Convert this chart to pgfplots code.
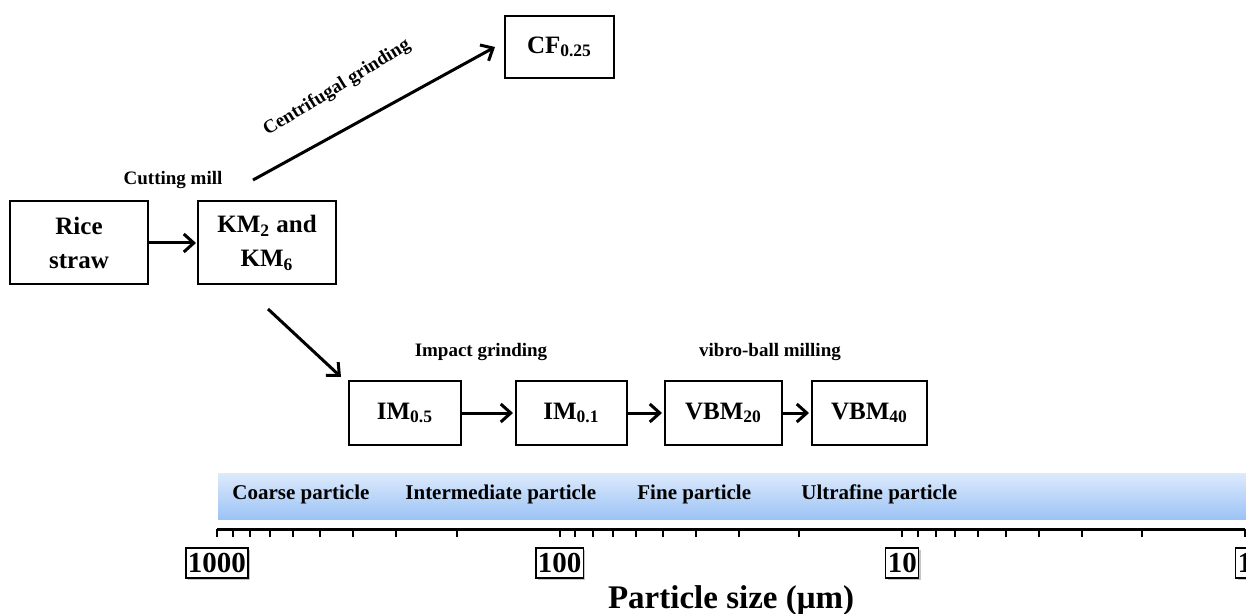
\documentclass[border=0pt]{standalone}
\usepackage{pgfplots}
\pgfplotsset{compat=1.18}
\usepackage{fontspec}
\setmainfont{Liberation Serif}
\usetikzlibrary{arrows.meta,shadows}

\definecolor{bartop}{HTML}{DDEAFC}
\definecolor{barbot}{HTML}{9CC3F6}

\begin{document}
\begin{tikzpicture}
\begin{scope}[x=0.5pt,y=-0.5pt,
  bx/.style={line width=1.3pt},
  ar/.style={-{Straight Barb[length=5pt,width=9pt]}, line width=1.5pt},
  lbl/.style={font=\fontsize{9.5}{11}\selectfont\bfseries},
  btx/.style={font=\fontsize{12.5}{17}\selectfont\bfseries, align=center}]

% boxes
\draw[bx] (10,201) rectangle (148,284);
\node[btx] at (79,243) {Rice\\straw};
\draw[bx] (198,201) rectangle (336,284);
\node[btx] at (267,243) {KM\textsubscript{2} and\\KM\textsubscript{6}};
\draw[bx] (505,16) rectangle (614,78);
\node[btx] at (559.5,47) {CF\textsubscript{0.25}};
\draw[bx] (349,381) rectangle (461,445);
\node[btx] at (405,413) {IM\textsubscript{0.5}};
\draw[bx] (516,381) rectangle (627,445);
\node[btx] at (571.5,413) {IM\textsubscript{0.1}};
\draw[bx] (665,381) rectangle (782,445);
\node[btx] at (723.5,413) {VBM\textsubscript{20}};
\draw[bx] (812,381) rectangle (927,445);
\node[btx] at (869.5,413) {VBM\textsubscript{40}};

% arrows
\draw[ar] (148,243) -- (196,243);
\draw[ar] (253,180) -- (495,47);
\draw[ar] (268,309) -- (341,377);
\draw[ar] (461,413) -- (513,413);
\draw[ar] (627,413) -- (662,413);
\draw[ar] (782,413) -- (809,413);

% process labels
\node[lbl] at (173,180) {Cutting mill};
\node[lbl, rotate=31.5] at (337,88) {Centrifugal grinding};
\node[lbl] at (481,352) {Impact grinding};
\node[lbl] at (770,352) {vibro-ball milling};

% particle class band
\shade[top color=bartop, bottom color=barbot] (218,473) rectangle (1246,519);
\begin{scope}[font=\fontsize{10.5}{12}\selectfont\bfseries]
\node[anchor=west, inner sep=0] at (232,494) {Coarse particle};
\node[anchor=west, inner sep=0] at (405,494) {Intermediate particle};
\node[anchor=west, inner sep=0] at (637,494) {Fine particle};
\node[anchor=west, inner sep=0] at (801,494) {Ultrafine particle};
\end{scope}
\end{scope}

% particle size axis (1 px = 0.5 pt, y downwards in the scope above)
\begin{axis}[at={(108.5pt,-264.5pt)}, anchor=south west,
  scale only axis, width=514pt, height=20pt,
  xmode=log, x dir=reverse, xmin=1, xmax=1000, ymin=0, ymax=1,
  axis x line=bottom, axis y line=none,
  axis line style={line width=1.5pt, -},
  xtick={1,10,100,1000}, xticklabels={1,10,100,1000},
  minor xtick={2,3,4,5,6,7,8,9,20,30,40,50,60,70,80,90,200,300,400,500,600,700,800,900},
  tick align=outside, major tick length=4pt, minor tick length=4pt,
  tick style={black, line width=1pt},
  xticklabel style={font=\fontsize{14.5}{16}\selectfont\bfseries,
    draw=black, line width=0.6pt, fill=white,
    drop shadow={shadow xshift=1pt, shadow yshift=-1.2pt, opacity=0.45},
    inner xsep=1pt, inner ysep=0pt, text height=12pt, text depth=3pt,
    anchor=center, yshift=-13pt},
  xlabel={Particle size (μm)},
  xlabel style={font=\fontsize{16.5}{18}\selectfont\bfseries,
    at={(axis description cs:0.5,0)}, anchor=center, yshift=-36pt},
]
\end{axis}
\pgfresetboundingbox
\path[use as bounding box] (0pt,0pt) rectangle (623pt,-307pt);
\end{tikzpicture}
\end{document}
